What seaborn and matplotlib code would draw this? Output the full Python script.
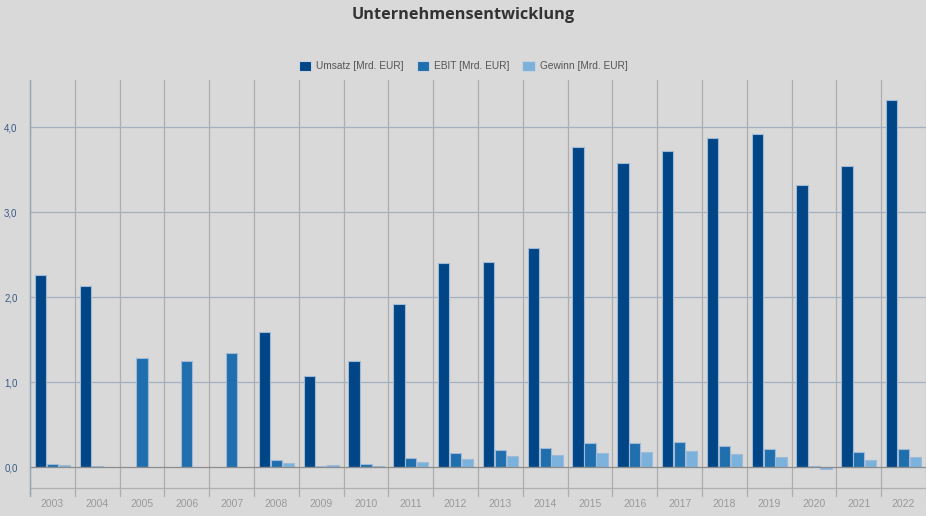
import numpy as np
import pandas as pd
import matplotlib
matplotlib.use("Agg")
import matplotlib.pyplot as plt
from matplotlib.patches import Patch
import seaborn as sns

years = [str(y) for y in range(2003, 2023)]
umsatz = [2.26, 2.13, np.nan, np.nan, np.nan, 1.59, 1.07, 1.25, 1.92, 2.40,
          2.41, 2.58, 3.77, 3.58, 3.72, 3.87, 3.92, 3.32, 3.54, 4.32]
ebit = [0.04, 0.01, 1.28, 1.25, 1.34, 0.08, 0.01, 0.035, 0.11, 0.17,
        0.20, 0.23, 0.28, 0.285, 0.30, 0.245, 0.21, 0.015, 0.175, 0.21]
gewinn = [0.03, 0.005, np.nan, np.nan, np.nan, 0.045, 0.025, 0.01, 0.06, 0.10,
          0.135, 0.14, 0.165, 0.185, 0.195, 0.16, 0.12, -0.02, 0.08, 0.125]
series_names = ["Umsatz [Mrd. EUR]", "EBIT [Mrd. EUR]", "Gewinn [Mrd. EUR]"]
colors = ["#004586", "#1f6ead", "#7ab2dc"]
yticks = [0.0, 1.0, 2.0, 3.0, 4.0]
ytick_labels = ["0,0", "1,0", "2,0", "3,0", "4,0"]
title = "Unternehmensentwicklung"

df = pd.DataFrame({
    "Jahr": years * 3,
    "Serie": [series_names[0]] * 20 + [series_names[1]] * 20 + [series_names[2]] * 20,
    "Wert": umsatz + ebit + gewinn,
})

sns.set_theme(style="white")
bg = "#d9d9d9"
plt.rcParams["font.family"] = ["Liberation Sans", "DejaVu Sans"]

fig = plt.figure(figsize=(9.26, 5.16), dpi=100, facecolor=bg)
W, H = 926, 516
ax = fig.add_axes([30 / W, 1 - 488 / H, (926 - 30) / W, (488 - 80) / H])
ax.set_facecolor(bg)

sns.barplot(data=df, x="Jahr", y="Wert", hue="Serie", order=years,
            hue_order=series_names, palette=colors, saturation=1, width=0.8, gap=0.05,
            edgecolor="#9fb9d6", linewidth=0.8, ax=ax, legend=False, zorder=3)

ax.set_xlim(-0.5, len(years) - 0.5)
ax.set_ylim(-0.244, 4.556)

# horizontal gridlines
for v in yticks:
    ax.axhline(v, color="#a3b0c0" if v != 0 else "#8c8c8c", lw=0.9, zorder=1 if v != 0 else 4)
# category dividers
for i in range(len(years) + 1):
    ax.plot([i - 0.5, i - 0.5], [-0.244 - 8 / 85, 4.556], color="#adadad", lw=0.9,
            clip_on=False, zorder=0 if i else 2)
ax.plot([-0.5, len(years) - 0.5], [-0.244, -0.244], color="#b0b0b0", lw=0.9, clip_on=False)
ax.plot([-0.5, -0.5], [-0.244 - 8 / 85, 4.556], color="#98a6b8", lw=1.0, clip_on=False, zorder=5)

for s in ax.spines.values():
    s.set_visible(False)

ax.set_yticks(yticks)
ax.set_yticklabels(ytick_labels, color="#3a5a85", fontsize=7)
ax.tick_params(axis="y", length=0, pad=9)
ax.set_xticks(range(len(years)))
ax.set_xticklabels(years, color="#999999", fontsize=7.5)
ax.tick_params(axis="x", length=0, pad=8)
ax.set_xlabel("")
ax.set_ylabel("")

handles = [Patch(facecolor=c, edgecolor="#c8d3df", lw=0.8) for c in colors]
fig.legend(handles, series_names, loc="center", bbox_to_anchor=(0.5, 1 - 66 / H),
           ncol=3, frameon=False, fontsize=7.3, labelcolor="#555555",
           handlelength=1.2, handleheight=1.2, handletextpad=0.5, columnspacing=1.3)

fig.text(0.5, 1 - 15 / H, title, ha="center", va="center", fontsize=11.7,
         fontweight="bold", color="#333333", family=["Open Sans", "DejaVu Sans"])

fig.savefig("out.png", dpi=100, facecolor=bg)
